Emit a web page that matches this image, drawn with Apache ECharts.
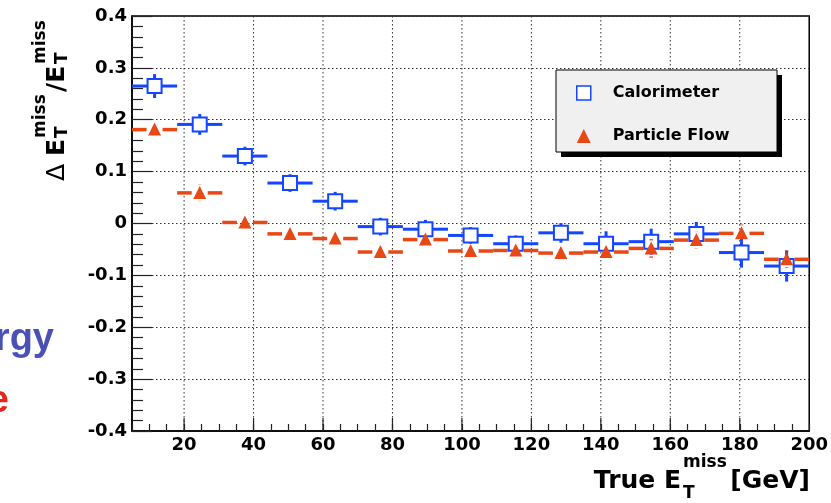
<!DOCTYPE html>
<html><head><meta charset="utf-8">
<script src="https://cdn.jsdelivr.net/npm/echarts@6/dist/echarts.min.js"></script>
<style>html,body{margin:0;padding:0;background:#fff}#c{width:831px;height:503px}</style>
</head><body><div id="c"></div>
<script>
// ---- data ----
const binLow  = [5, 18, 31, 44, 57, 70, 83, 96, 109, 122, 135, 148, 161, 174, 187];
const binHigh = [18, 31, 44, 57, 70, 83, 96, 109, 122, 135, 148, 161, 174, 187, 200];
const calValue = [0.265, 0.191, 0.130, 0.078, 0.043, -0.006, -0.011, -0.023, -0.039, -0.018, -0.039, -0.035, -0.020, -0.056, -0.082];
const calError = [0.023, 0.020, 0.018, 0.017, 0.018, 0.017, 0.018, 0.016, 0.016, 0.019, 0.024, 0.025, 0.023, 0.029, 0.030];
const pfValue  = [0.181, 0.059, 0.002, -0.020, -0.029, -0.055, -0.031, -0.053, -0.052, -0.057, -0.055, -0.048, -0.032, -0.019, -0.069];
const pfError  = [0.015, 0.016, 0.006, 0.006, 0.006, 0.008, 0.012, 0.012, 0.014, 0.012, 0.012, 0.018, 0.016, 0.017, 0.017];
const xMajorTicks = [20, 40, 60, 80, 100, 120, 140, 160, 180];
const xRange = [5, 200];
const yRange = [-0.4, 0.4];
const seriesNames = ['Calorimeter', 'Particle Flow'];

const FONT = 'DejaVu Sans';
const BLUE = '#1446ff', RED = '#e84816';

const chart = echarts.init(document.getElementById('c'));

function rows(vals, errs) {
  return vals.map((v, i) => [binLow[i], binHigh[i], v, errs[i]]);
}

function errRender(kind, color, gap, lw) {
  return function (params, api) {
    const lo = api.value(0), hi = api.value(1), v = api.value(2), e = api.value(3);
    const mid = (lo + hi) / 2;
    const c = api.coord([mid, v]);
    const pl = api.coord([lo, v]), ph = api.coord([hi, v]);
    const pt = api.coord([mid, v + e]), pb = api.coord([mid, v - e]);
    const st = { stroke: color, lineWidth: lw };
    const ch = [
      { type: 'line', shape: { x1: pl[0], y1: c[1], x2: c[0] - gap, y2: c[1] }, style: st },
      { type: 'line', shape: { x1: c[0] + gap, y1: c[1], x2: ph[0], y2: c[1] }, style: st }
    ];
    if (c[1] - pt[1] > gap) ch.push({ type: 'line', shape: { x1: c[0], y1: pt[1], x2: c[0], y2: c[1] - gap }, style: st });
    if (pb[1] - c[1] > gap) ch.push({ type: 'line', shape: { x1: c[0], y1: c[1] + gap, x2: c[0], y2: pb[1] }, style: st });
    if (kind === 'square') {
      ch.push({ type: 'rect', shape: { x: c[0] - 7, y: c[1] - 7, width: 14, height: 14 }, style: { fill: '#fff', stroke: color, lineWidth: 2 } });
    } else {
      ch.push({ type: 'polygon', shape: { points: [[c[0], c[1] - 7], [c[0] - 6.5, c[1] + 6], [c[0] + 6.5, c[1] + 6]] }, style: { fill: color } });
    }
    return { type: 'group', children: ch };
  };
}

const bigFont = 'bold 25px "' + FONT + '"';
const smallFont = 'bold 17px "' + FONT + '"';
const slideFont = 'bold 38px "Liberation Sans"';

const option = {
  animation: false,
  backgroundColor: '#fff',
  grid: { left: 132, right: 20, top: 16, bottom: 72, show: true, borderColor: '#000', borderWidth: 1.5, backgroundColor: 'transparent' },
  xAxis: {
    type: 'value', min: xRange[0], max: xRange[1], interval: 5,
    axisLine: { onZero: false, lineStyle: { color: '#000', width: 1.5 } },
    axisTick: { inside: true, length: 7, lineStyle: { color: '#222', width: 1.2 } },
    axisLabel: {
      margin: 5, color: '#000', fontFamily: FONT, fontWeight: 'bold', fontSize: 18,
      formatter: v => (Math.round(v) % 20 === 0 ? String(Math.round(v)) : '')
    },
    splitLine: { show: false }
  },
  yAxis: {
    type: 'value', min: yRange[0], max: yRange[1], interval: 0.1,
    axisLine: { onZero: false, lineStyle: { color: '#000', width: 1.5 } },
    axisTick: { inside: true, length: 20, lineStyle: { color: '#222', width: 1.2 } },
    minorTick: { show: true, splitNumber: 5, length: 11, lineStyle: { color: '#222', width: 1.2 } },
    axisLabel: {
      margin: 5, color: '#000', fontFamily: FONT, fontWeight: 'bold', fontSize: 18,
      formatter: v => (Math.abs(v) < 1e-9 ? '0' : v.toFixed(1))
    },
    splitLine: { show: true, lineStyle: { color: '#333', width: 1, type: [1.5, 2.5] } }
  },
  legend: {
    left: 576, top: 85, orient: 'vertical', itemGap: 27, itemWidth: 14, itemHeight: 14,
    padding: 0, selectedMode: false,
    textStyle: { fontFamily: FONT, fontWeight: 'bold', fontSize: 16, color: '#000', padding: [0, 0, 0, 17] },
    data: [
      { name: seriesNames[0], icon: 'rect', itemStyle: { color: '#fff', borderColor: BLUE, borderWidth: 1.5 } },
      { name: seriesNames[1], icon: 'triangle', itemStyle: { color: RED, borderWidth: 0 } }
    ]
  },
  graphic: [
    { type: 'rect', z: 3, shape: { x: 561, y: 75, width: 221, height: 82 }, style: { fill: '#000' } },
    { type: 'rect', z: 3, shape: { x: 556, y: 70, width: 221, height: 82 }, style: { fill: '#f0f0f0', stroke: '#000', lineWidth: 1 } },
    // slide text cut off at the left edge
    { type: 'text', z: 5, x: 54, y: 340, style: { text: 'Energy', font: slideFont, fill: '#4b50b5', align: 'right', verticalAlign: 'middle' } },
    { type: 'text', z: 5, x: 9, y: 402, style: { text: 'e', font: slideFont, fill: '#e8251c', align: 'right', verticalAlign: 'middle' } },
    // x axis title
    { type: 'group', z: 5, children: [
      { type: 'text', x: 681, y: 481, style: { text: 'True E', font: bigFont, fill: '#000', align: 'right', verticalAlign: 'middle' } },
      { type: 'text', x: 683, y: 463, style: { text: 'miss', font: smallFont, fill: '#000', align: 'left', verticalAlign: 'middle' } },
      { type: 'text', x: 683, y: 494, style: { text: 'T', font: smallFont, fill: '#000', align: 'left', verticalAlign: 'middle' } },
      { type: 'text', x: 810, y: 481, style: { text: '[GeV]', font: bigFont, fill: '#000', align: 'right', verticalAlign: 'middle' } }
    ] },
    // y axis title (rotated)
    { type: 'group', z: 5, x: 57, y: 181, rotation: Math.PI / 2, children: [
      { type: 'text', x: 0, y: 0, style: { text: '\u0394', font: '25px "' + FONT + '"', fill: '#000', align: 'left', verticalAlign: 'middle' } },
      { type: 'text', x: 25, y: 0, style: { text: 'E', font: bigFont, fill: '#000', align: 'left', verticalAlign: 'middle' } },
      { type: 'text', x: 43, y: -16, style: { text: 'miss', font: smallFont, fill: '#000', align: 'left', verticalAlign: 'middle' } },
      { type: 'text', x: 43, y: 6, style: { text: 'T', font: smallFont, fill: '#000', align: 'left', verticalAlign: 'middle' } },
      { type: 'text', x: 89, y: 0, style: { text: '/E', font: bigFont, fill: '#000', align: 'left', verticalAlign: 'middle' } },
      { type: 'text', x: 117, y: -16, style: { text: 'miss', font: smallFont, fill: '#000', align: 'left', verticalAlign: 'middle' } },
      { type: 'text', x: 117, y: 6, style: { text: 'T', font: smallFont, fill: '#000', align: 'left', verticalAlign: 'middle' } }
    ] }
  ],
  series: [
    {
      type: 'custom', name: 'xgrid', silent: true, z: 1,
      data: xMajorTicks.map(v => [v]),
      encode: { x: 0 },
      renderItem: function (params, api) {
        const x = api.value(0);
        const top = api.coord([x, yRange[1]]), bot = api.coord([x, yRange[0]]);
        return { type: 'group', children: [
          { type: 'line', shape: { x1: top[0], y1: top[1], x2: bot[0], y2: bot[1] }, style: { stroke: '#333', lineWidth: 1, lineDash: [1.5, 2.5] } },
          { type: 'line', shape: { x1: bot[0], y1: bot[1], x2: bot[0], y2: bot[1] - 13 }, style: { stroke: '#222', lineWidth: 1.2 } }
        ] };
      }
    },
    {
      type: 'custom', name: seriesNames[0], z: 3,
      data: rows(calValue, calError),
      encode: { x: [0, 1], y: 2 },
      renderItem: errRender('square', BLUE, 7, 3)
    },
    {
      type: 'custom', name: seriesNames[1], z: 4,
      data: rows(pfValue, pfError),
      encode: { x: [0, 1], y: 2 },
      renderItem: errRender('triangle', RED, 8, 3.5)
    }
  ]
};
chart.setOption(option);
</script>
</body></html>
